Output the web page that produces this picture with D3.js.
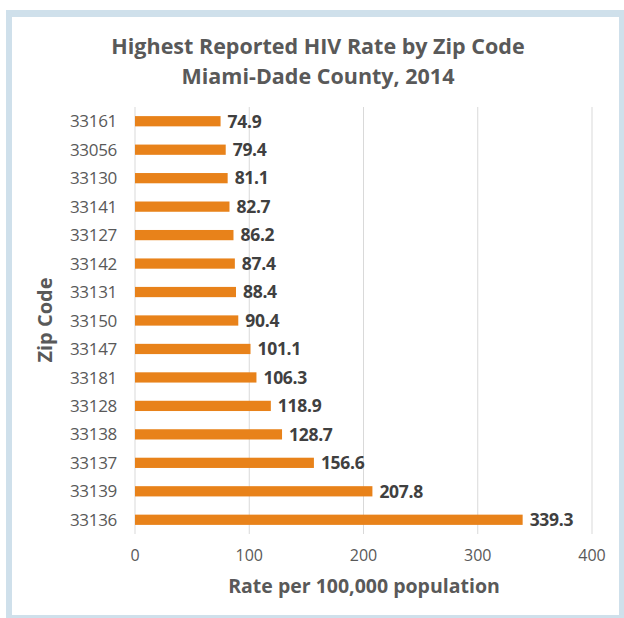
<!DOCTYPE html>
<html lang="en">
<head>
<meta charset="UTF-8">
<script src="https://d3js.org/d3.v7.min.js"></script>
<style>
  body { margin: 0; background: #fff; }
  svg { display: block; font-family: "Open Sans", sans-serif; }
</style>
</head>
<body>
<svg id="chart" width="624" height="618"></svg>
<script>
// zip codes, top to bottom as in the chart
var zips = ["33161", "33056", "33130", "33141", "33127", "33142", "33131", "33150",
            "33147", "33181", "33128", "33138", "33137", "33139", "33136"];
var rates = [74.9, 79.4, 81.1, 82.7, 86.2, 87.4, 88.4, 90.4,
             101.1, 106.3, 118.9, 128.7, 156.6, 207.8, 339.3];
var xTicks = [0, 100, 200, 300, 400];

var svg = d3.select("#chart");

// frame
svg.append("rect").attr("x", 6).attr("y", 10).attr("width", 618).attr("height", 608).attr("fill", "#cfe0eb");
svg.append("rect").attr("x", 12).attr("y", 17).attr("width", 607).attr("height", 598).attr("fill", "#fff");

var plotLeft = 135, plotRight = 592, plotTop = 107, plotBottom = 534;

var x = d3.scaleLinear().domain([0, 400]).range([plotLeft, plotRight]);
var y = d3.scaleBand().domain(zips).range([plotTop, plotBottom]).paddingInner(0.64).paddingOuter(0.32);

// gridlines
svg.append("g").selectAll("line").data(xTicks).join("line")
  .attr("x1", d => x(d)).attr("x2", d => x(d))
  .attr("y1", plotTop).attr("y2", plotBottom)
  .attr("stroke", "#d9d9d9").attr("stroke-width", 1);

// bars
svg.append("g").selectAll("rect").data(rates).join("rect")
  .attr("x", x(0))
  .attr("y", (d, i) => y(zips[i]))
  .attr("width", d => x(d) - x(0))
  .attr("height", y.bandwidth())
  .attr("fill", "#e8821a");

// value labels
svg.append("g").selectAll("text").data(rates).join("text")
  .attr("x", d => x(d) + 7)
  .attr("y", (d, i) => y(zips[i]) + y.bandwidth() / 2)
  .attr("dy", "0.36em")
  .attr("font-size", 17.5).attr("font-weight", "bold").attr("fill", "#404040")
  .attr("letter-spacing", -0.3)
  .text(d => d.toFixed(1));

// y axis labels
svg.append("g").selectAll("text").data(zips).join("text")
  .attr("x", 117)
  .attr("y", d => y(d) + y.bandwidth() / 2)
  .attr("dy", "0.36em")
  .attr("text-anchor", "end")
  .attr("font-size", 17).attr("fill", "#595959")
  .attr("letter-spacing", -0.3)
  .text(d => d);

// x axis labels
svg.append("g").selectAll("text").data(xTicks).join("text")
  .attr("x", d => x(d))
  .attr("y", 561)
  .attr("text-anchor", "middle")
  .attr("font-size", 16).attr("fill", "#595959")
  .text(d => d);

// titles
var title = svg.append("text").attr("text-anchor", "middle")
  .attr("font-size", 21.5).attr("font-weight", "bold").attr("fill", "#595959");
title.append("tspan").attr("x", 318).attr("y", 54).text("Highest Reported HIV Rate by Zip Code");
title.append("tspan").attr("x", 318).attr("y", 84).text("Miami-Dade County, 2014");

svg.append("text").attr("x", 364).attr("y", 593).attr("text-anchor", "middle")
  .attr("font-size", 19.5).attr("font-weight", "bold").attr("fill", "#595959")
  .text("Rate per 100,000 population");

svg.append("text").attr("transform", "translate(52,320) rotate(-90)")
  .attr("text-anchor", "middle")
  .attr("font-size", 20).attr("font-weight", "bold").attr("fill", "#595959")
  .text("Zip Code");
</script>
</body>
</html>
